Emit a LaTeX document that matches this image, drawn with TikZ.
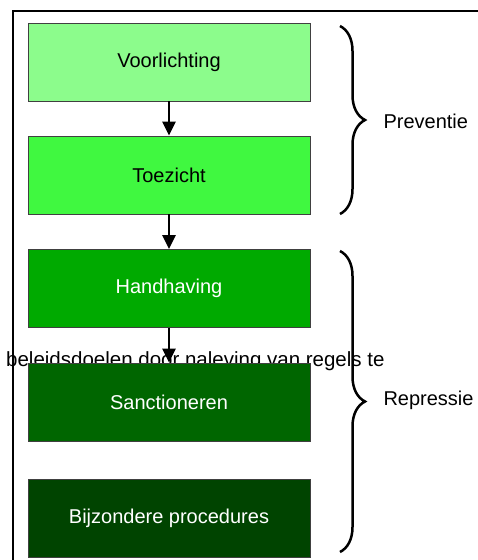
\documentclass[tikz,border=0pt]{standalone}
\usepackage{fontspec}
\setmainfont{Liberation Sans}
\usetikzlibrary{decorations.pathreplacing,arrows.meta}

\definecolor{voorgreen}{RGB}{140,252,140}
\definecolor{toezgreen}{RGB}{64,248,64}
\definecolor{handgreen}{RGB}{0,170,0}
\definecolor{sancgreen}{RGB}{0,102,0}
\definecolor{bijzgreen}{RGB}{0,68,0}

\tikzset{
  stage/.style={draw=black!75, line width=0.8pt, minimum width=282pt,
    minimum height=78pt, inner sep=0pt, font=\fontsize{20}{24}\selectfont},
  flow/.style={-{Triangle[length=14pt,width=13pt]}, line width=2.5pt},
  bracket/.style={decorate, decoration={brace, amplitude=25pt}, line width=2.5pt},
  phase/.style={anchor=west, font=\fontsize{20}{24}\selectfont},
}

\begin{document}
\begin{tikzpicture}[x=1pt,y=-1pt]

\useasboundingbox (0,0) rectangle (478,560);

% frame, runs off the page
\begin{scope}
\clip (0,0) rectangle (478,560);
\draw[line width=1.6pt] (13,11) rectangle (500,580);
\end{scope}

% stray text behind the boxes
\node[anchor=base west, inner sep=0pt, font=\fontsize{20.5}{24}\selectfont] (stray) at (6,366)
  {beleidsdoelen door naleving van regels te};

% stages
\node[stage, fill=voorgreen] (voor) at (169,62) {Voorlichting};
\node[stage, fill=toezgreen] (toez) at (169,175) {Toezicht};
\node[stage, fill=handgreen, text=white] (hand) at (169,288.5) {Handhaving};
\node[stage, fill=sancgreen, text=white] (sanc) at (169,402) {Sanctioneren};
\node[stage, fill=bijzgreen, text=white] (bijz) at (169,518.5) {Bijzondere procedures};

\draw[flow] (voor) -- (toez);
\draw[flow] (toez) -- (hand);
\draw[flow] (hand) -- (sanc);

% braces
\coordinate (prevtop) at (340,26);
\coordinate (prevbot) at (340,214);
\coordinate (reprtop) at (340,251);
\coordinate (reprbot) at (340,552);
\draw[bracket] (prevtop) -- (prevbot);
\draw[bracket] (reprtop) -- (reprbot);

\node[phase] (prev) at (380,121) {Preventie};
\node[phase] (repr) at (380,400) {Repressie};

\end{tikzpicture}
\end{document}
